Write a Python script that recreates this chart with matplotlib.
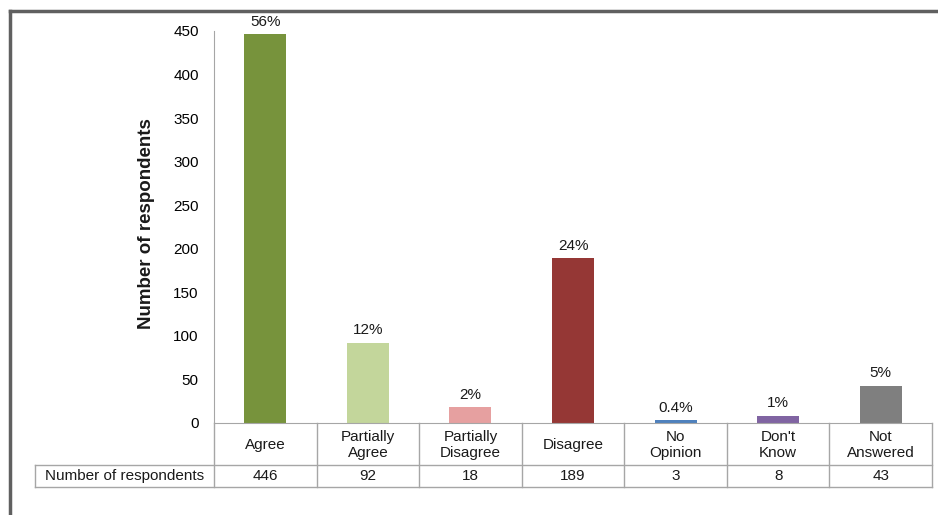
import matplotlib
matplotlib.use("Agg")
import matplotlib.pyplot as plt
from matplotlib.lines import Line2D
import matplotlib.transforms as mtransforms

plt.rcParams['font.family'] = ['Liberation Sans', 'DejaVu Sans']

categories = ["Agree", "Partially\nAgree", "Partially\nDisagree", "Disagree",
              "No\nOpinion", "Don't\nKnow", "Not\nAnswered"]
counts = [446, 92, 18, 189, 3, 8, 43]
pct_labels = ["56%", "12%", "2%", "24%", "0.4%", "1%", "5%"]
colors = ["#77933C", "#C3D69B", "#E6A0A0", "#953735", "#4F81BD", "#8064A2", "#7F7F7F"]
row_header = "Number of respondents"
y_title = "Number of respondents"
yticks = [0, 50, 100, 150, 200, 250, 300, 350, 400, 450]

W, H = 938, 515
fig = plt.figure(figsize=(W / 100, H / 100), dpi=100)

def fx(px):
    return px / W

def fy(py):
    return 1 - py / H

ax_l, ax_r, ax_t, ax_b = 214, 932, 31, 423
ax = fig.add_axes([fx(ax_l), fy(ax_b), fx(ax_r) - fx(ax_l), fy(ax_t) - fy(ax_b)])
x = list(range(len(categories)))
ax.bar(x, counts, width=0.41, color=colors, zorder=2)
for xi, c, lab in zip(x, counts, pct_labels):
    ax.annotate(lab, (xi, c), xytext=(0, 4), textcoords="offset points",
                ha="center", va="bottom", fontsize=11, color="#1a1a1a")
ax.set_xlim(-0.5, len(categories) - 0.5)
ax.set_ylim(0, 450)
ax.set_yticks(yticks)
ax.set_yticklabels([str(t) for t in yticks], fontsize=11)
ax.tick_params(axis="y", length=0, pad=11)
ax.set_xticks([])
for s in ["top", "right"]:
    ax.spines[s].set_visible(False)
ax.spines["left"].set_color("#A6A6A6")
ax.spines["bottom"].set_color("#A6A6A6")
fig.text(fx(146), fy(224), y_title, rotation=90, ha="center", va="center",
         fontsize=13.5, fontweight="bold", color="#1a1a1a")

# table below axes
line_kw = dict(color="#A6A6A6", linewidth=1.0)
row1_bot, row2_bot = 465, 487
tbl_left = 35
trans = mtransforms.blended_transform_factory(ax.transData, fig.transFigure)
for k in range(len(categories) + 1):
    xb = k - 0.5
    fig.add_artist(Line2D([xb, xb], [fy(ax_b), fy(row2_bot)], transform=trans, **line_kw))
fig.add_artist(Line2D([fx(tbl_left), fx(ax_r)], [fy(row1_bot), fy(row1_bot)], **line_kw))
fig.add_artist(Line2D([fx(tbl_left), fx(ax_r)], [fy(row2_bot), fy(row2_bot)], **line_kw))
fig.add_artist(Line2D([fx(tbl_left), fx(tbl_left)], [fy(row1_bot), fy(row2_bot)], **line_kw))

for xi, cat, c in zip(x, categories, counts):
    fig.text(xi, fy((ax_b + row1_bot) / 2 + 1), cat, transform=trans, ha="center", va="center",
             fontsize=11, linespacing=1.1, color="#1a1a1a")
    fig.text(xi, fy((row1_bot + row2_bot) / 2), str(c), transform=trans, ha="center",
             va="center", fontsize=11, color="#1a1a1a")
fig.text(fx((tbl_left + ax_l) / 2), fy((row1_bot + row2_bot) / 2), row_header,
         ha="center", va="center", fontsize=11, color="#1a1a1a")

# outer frame (top and left visible)
fig.add_artist(Line2D([fx(10), 1.0], [fy(11), fy(11)], color="#606060", linewidth=2.5))
fig.add_artist(Line2D([fx(10), fx(10)], [fy(11), 0.0], color="#606060", linewidth=2.5))

fig.savefig("out.png", dpi=100)
